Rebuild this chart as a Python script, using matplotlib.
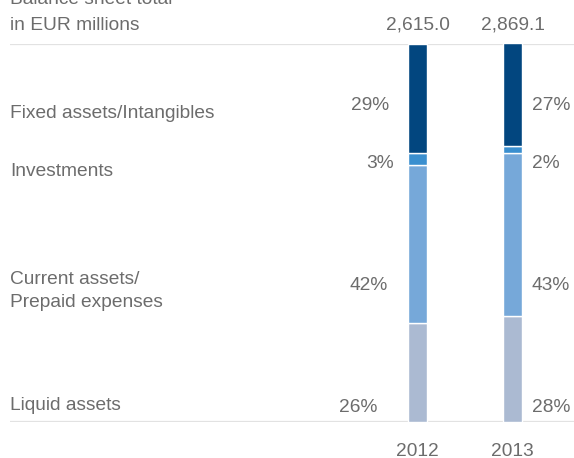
import numpy as np
import matplotlib
matplotlib.use('Agg')
from matplotlib import pyplot as plt

plt.rcParams['font.family'] = ['Liberation Sans', 'DejaVu Sans']

# balance sheet structure, shares in percent (bottom to top)
years = ['2012', '2013']
totals = ['2,615.0', '2,869.1']
categories = ['Liquid assets', 'Current assets/\nPrepaid expenses', 'Investments', 'Fixed assets/Intangibles']
liquid = [26, 28]
current = [42, 43]
investments = [3, 2]
fixed = [29, 27]
series = [liquid, current, investments, fixed]
colors = ['#abbad2', '#76a8d9', '#3a8fcf', '#02467f']

W, H = 574, 458
txt = '#6c6c6c'
grid = '#e2e2e2'

fig = plt.figure(figsize=(W / 100, H / 100), dpi=100)

# axes spans the plotting band between the two rules (pixel 43.5 .. 421.7)
top_px, bot_px = 43.5, 421.7
left_px = 10
ax = fig.add_axes([left_px / W, 1 - bot_px / H, 1 - left_px / W, (bot_px - top_px) / H])
step = 95.0
x0 = 417.5
ax.set_xlim((left_px - x0) / step, (W - x0) / step)
ax.set_ylim(0, 100)
ax.axis('off')

ax.axhline(100, color=grid, lw=1.6, zorder=0)
ax.axhline(0, color=grid, lw=1.6, zorder=0)

x = np.arange(len(years))
bottom = np.zeros(len(years))
for vals, col in zip(series, colors):
    ax.bar(x, vals, width=19.5 / step, bottom=bottom, color=col,
           edgecolor='white', linewidth=1.0, zorder=2)
    bottom += np.array(vals)

def ftext(px, py, s, **kw):
    fig.text(px / W, 1 - py / H, s, color=txt, fontsize=13.8, **kw)

# heading
ftext(left_px, 0, 'Balance sheet total', va='center', ha='left')
ftext(left_px, 25, 'in EUR millions', va='center', ha='left')

# totals above bars and years below
for i in range(len(years)):
    px = x0 + step * i
    ftext(px, 25, totals[i], ha='center', va='center')
    ftext(px, 451, years[i], ha='center', va='center')

# category labels on the left
label_y = [406, 291, 171, 114]
for cat, ly in zip(categories, label_y):
    ftext(left_px, ly, cat, ha='left', va='center', linespacing=1.45)

# percentage labels beside each bar
pct_y = [407, 285, 164, 105]
right_2012 = [377, 388, 394, 389]
for vals, py, rx in zip(series, pct_y, right_2012):
    ftext(rx, py, f'{vals[0]}%', ha='right', va='center')
    ftext(532, py, f'{vals[1]}%', ha='left', va='center')

fig.savefig('out.png', dpi=100)
